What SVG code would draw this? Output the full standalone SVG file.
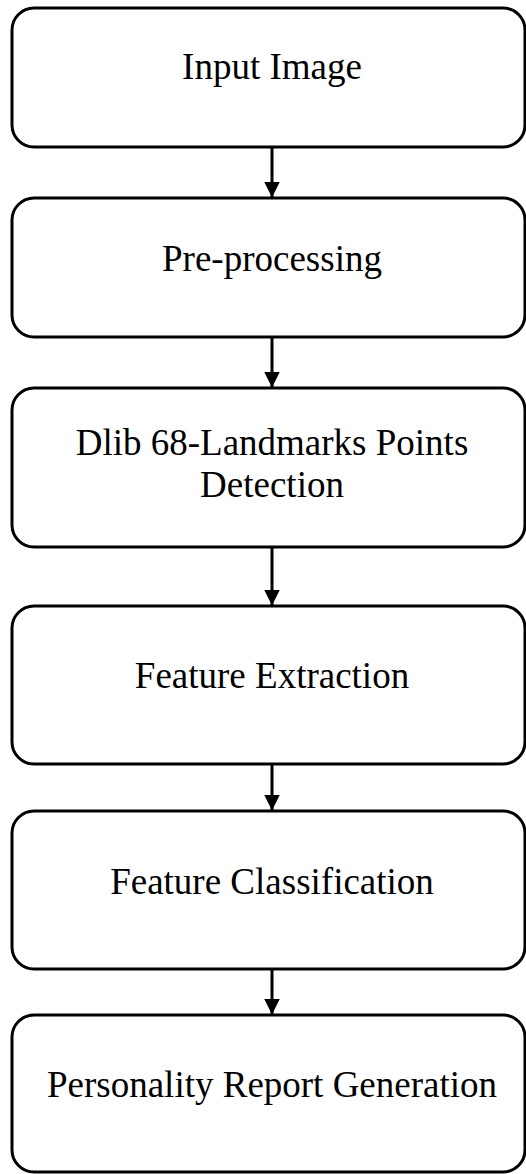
<svg xmlns="http://www.w3.org/2000/svg" width="526" height="1174" viewBox="0 0 526 1174">
<style>
.box{fill:#fff;stroke:#000;stroke-width:3}
.lbl{font-family:"Liberation Serif","Times New Roman",serif;font-size:37px;fill:#000;text-anchor:middle}
.con{stroke:#000;stroke-width:3;fill:none}
</style>
<defs>
<marker id="ah" markerUnits="userSpaceOnUse" markerWidth="16" markerHeight="17" refX="15.5" refY="8" orient="auto">
<path d="M0,0 L16,8 L0,16 Z" fill="#000"/>
</marker>
</defs>
<rect width="526" height="1174" fill="#fff"/>
<g id="connectors">
<line class="con" x1="272" y1="147" x2="272" y2="197" marker-end="url(#ah)"/>
<line class="con" x1="272" y1="337" x2="272" y2="387" marker-end="url(#ah)"/>
<line class="con" x1="272" y1="547" x2="272" y2="605" marker-end="url(#ah)"/>
<line class="con" x1="272" y1="764" x2="272" y2="810" marker-end="url(#ah)"/>
<line class="con" x1="272" y1="969" x2="272" y2="1014" marker-end="url(#ah)"/>
</g>
<g id="n1"><rect class="box" x="12" y="8" width="513" height="139" rx="22"/><text class="lbl" x="272" y="79">Input Image</text></g>
<g id="n2"><rect class="box" x="12" y="198" width="513" height="139" rx="22"/><text class="lbl" x="272" y="271">Pre-processing</text></g>
<g id="n3"><rect class="box" x="12" y="388" width="513" height="159" rx="22"/><text class="lbl" x="272" y="455">Dlib 68-Landmarks Points</text><text class="lbl" x="272" y="497">Detection</text></g>
<g id="n4"><rect class="box" x="12" y="606" width="513" height="158" rx="22"/><text class="lbl" x="272" y="688">Feature Extraction</text></g>
<g id="n5"><rect class="box" x="12" y="811" width="513" height="158" rx="22"/><text class="lbl" x="272" y="894">Feature Classification</text></g>
<g id="n6"><rect class="box" x="12" y="1015" width="513" height="157" rx="22"/><text class="lbl" x="272" y="1097">Personality Report Generation</text></g>
</svg>
